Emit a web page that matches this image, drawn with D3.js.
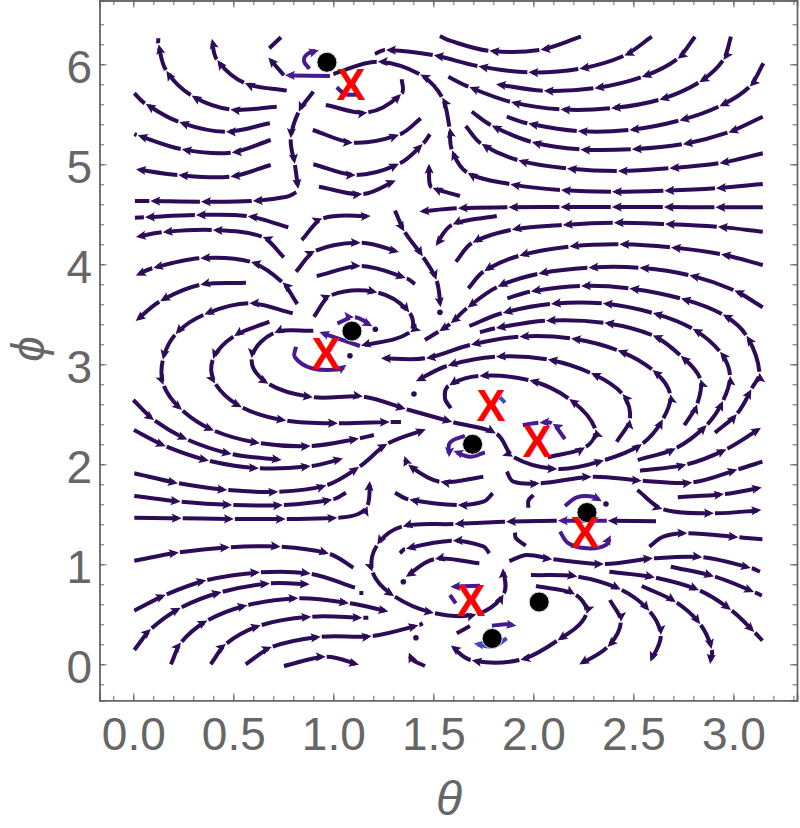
<!DOCTYPE html>
<html>
<head>
<meta charset="utf-8">
<script src="https://cdnjs.cloudflare.com/ajax/libs/d3/7.8.5/d3.min.js"></script>
<style>
  html, body { margin: 0; padding: 0; background: #fff; }
  svg { display: block; }
  text { font-family: "Liberation Sans", sans-serif; }
</style>
</head>
<body>
<div id="vis"></div>
<script>
// each line is a list of [theta, phi] knots in flow direction, a head sits on every knot.
// a third value 0 means no head on that knot (the line just passes through it)
var darkStreams = [
  [[.767,5.737],[.553,5.816],[.417,6.05],[.392,6.266]],
  [[.717,5.576],[.48,5.55],[.287,5.693],[.163,5.943],[.125,6.21],[.125,6.26,0]],
  [[.683,5.41],[.458,5.326],[.225,5.426],[.058,5.61],[.005,5.71,0]],
  [[.687,5.243],[.487,5.116],[.237,5.153],[.017,5.293],[.005,5.303,0]],
  [[.687,4.993],[.48,4.876],[.22,4.893],[.008,4.953]],
  [[.9,5.726],[.825,5.516],[.787,5.25],[.808,4.993],[.825,4.743]],
  [[.815,4.72],[.767,4.676,0],[.592,4.633],[.333,4.626],[.08,4.633],[.008,4.633,0]],
  [[.775,4.37],[.567,4.483],[.308,4.493],[.053,4.47],[.008,4.466,0]],
  [[.753,4.07],[.642,4.276],[.392,4.343],[.142,4.32],[.008,4.27]],
  [[.82,3.603],[.742,3.826],[.583,4.026],[.33,4.06],[.095,3.96],[.008,3.883]],
  [[.563,3.816],[.33,3.793],[.13,3.626],[.008,3.426]],
  [[.797,3.51],[.575,3.61],[.35,3.493],[.208,3.293],[.147,3.036],[.153,2.783],[.247,2.536],[.408,2.333],[.638,2.21],[.892,2.183],[1.133,2.26],[1.203,2.293,0]],
  [[.68,3.426],[.5,3.276],[.397,3.043],[.412,2.8],[.547,2.566],[.77,2.436],[1.028,2.41],[1.287,2.423],[1.338,2.423,0]],
  [[.9,3.336],[.7,3.31],[.592,3.05],[.68,2.8],[.903,2.67],[1.153,2.676],[1.367,2.55],[1.6,2.42],[1.817,2.303],[1.903,2.07],[2.125,1.953],[2.358,2.043],[2.547,2.21],[2.65,2.46],[2.683,2.71],[2.592,2.95],[2.417,3.143],[2.183,3.26],[1.925,3.276],[1.683,3.193],[1.458,3.06],[1.233,3.06]],
  [[.753,5.89],[.672,6.076]],
  [[.68,6.16],[.738,6.27,0]],
  [[2.238,6.276],[2.03,6.143],[1.775,6.136],[1.583,6.236,0],[1.533,6.283,0]],
  [[2.592,6.276],[2.45,6.083],[2.225,5.953],[1.97,5.92],[1.72,5.983],[1.497,6.093],[1.258,6.143],[1.208,6.103,0]],
  [[2.808,6.276],[2.717,6.05],[2.537,5.87],[2.3,5.76],[2.047,5.736],[1.808,5.803]],
  [[2.988,6.276],[2.947,6.036],[2.825,5.816],[2.625,5.643],[2.383,5.56],[2.13,5.55],[1.883,5.626],[1.675,5.776],[1.575,5.876,0]],
  [[3.15,6.01],[3.078,5.77],[2.925,5.576],[2.725,5.436],[2.475,5.343],[2.217,5.333],[1.97,5.41],[1.867,5.476,0]],
  [[3.147,5.476],[2.97,5.316],[2.742,5.2],[2.487,5.15],[2.23,5.15],[1.987,5.226],[1.787,5.393],[1.692,5.526,0]],
  [[3.147,5.11],[2.925,5.01],[2.675,4.96],[2.417,4.933],[2.163,4.96],[1.92,5.043],[1.737,5.21],[1.662,5.383,0]],
  [[3.147,4.803],[2.908,4.76],[2.65,4.736],[2.388,4.726],[2.133,4.743],[1.88,4.803],[1.667,4.92],[1.592,5.15],[1.58,5.376],[1.542,5.676],[1.43,5.903],[1.217,6.026],[1.0,5.903,0]],
  [[3.147,4.57],[2.905,4.57],[2.647,4.573],[2.387,4.573],[2.13,4.573],[1.87,4.57],[1.617,4.56],[1.425,4.526]],
  [[1.633,4.683,0],[1.492,4.77],[1.48,4.826,0],[1.478,5.016]],
  [[3.147,4.326],[2.917,4.376],[2.653,4.403],[2.397,4.416],[2.142,4.393],[1.887,4.343],[1.692,4.21],[1.613,4.026,0]],
  [[1.817,4.483],[1.592,4.393],[1.508,4.176]],
  [[3.147,3.993],[2.933,4.103],[2.683,4.17],[2.425,4.2],[2.175,4.176],[1.925,4.083],[1.75,3.926],[1.675,3.76,0]],
  [[3.147,3.57],[3.0,3.743],[2.775,3.893],[2.525,3.966],[2.27,3.966],[2.02,3.903],[1.817,3.77],[1.667,3.56],[1.583,3.403],[1.525,3.326],[1.458,3.243,0]],
  [[2.755,2.39],[2.82,2.61],[2.833,2.86],[2.733,3.093],[2.592,3.293],[2.35,3.416],[2.058,3.436],[1.808,3.36],[1.733,3.32,0]],
  [[2.522,2.043],[2.717,2.166],[2.87,2.4],[2.95,2.643],[2.983,2.893],[2.93,3.133],[2.792,3.36],[2.592,3.516],[2.342,3.61],[2.083,3.603],[1.842,3.51],[1.68,3.383,0]],
  [[2.908,2.316],[3.02,2.51],[3.092,2.76],[3.13,2.926],[3.063,3.293],[2.942,3.503],[2.733,3.66],[2.475,3.76],[2.233,3.783],[1.983,3.726],[1.87,3.66,0]],
  [[2.417,2.226],[2.483,2.46],[2.442,2.71],[2.283,2.916],[2.067,3.05],[1.808,3.076],[1.567,2.983],[1.408,2.826]],
  [[2.072,2.07],[2.263,2.176],[2.308,2.36],[2.175,2.66],[1.975,2.843],[1.725,2.883],[1.575,2.783],[1.558,2.66,0],[1.587,2.56,0]],
  [[1.308,4.536],[1.358,4.32],[1.45,4.07],[1.517,3.833],[1.537,3.56]],
  [[.962,5.593],[1.175,5.52],[1.342,5.71],[1.342,5.85,0]],
  [[.897,5.343],[1.103,5.216],[1.333,5.3],[1.437,5.46,0]],
  [[.9,5.0],[1.117,4.893],[1.333,5.01],[1.45,5.21],[1.483,5.3,0]],
  [[.928,4.776],[1.15,4.703],[1.317,4.843]],
  [[.842,4.243],[.95,4.46],[1.192,4.483]],
  [[.813,3.926],[.913,4.136],[1.142,4.216],[1.333,4.12]],
  [[.917,3.883],[1.142,3.983],[1.367,3.86],[1.408,3.803,0]],
  [[.903,3.476],[.992,3.693],[1.225,3.716],[1.383,3.51],[1.38,3.316],[1.133,3.183]],
  [[0,2.643],[.108,2.436],[.275,2.243],[.497,2.1],[.747,2.043]],
  [[.003,2.343],[.167,2.176],[.383,2.033],[.633,1.96],[.892,1.983],[1.053,2.06]],
  [[.005,1.91],[.228,1.81],[.475,1.743],[.73,1.726],[.97,1.793],[1.133,1.98],[1.275,2.21],[1.467,2.353]],
  [[.005,1.683],[.242,1.626],[.5,1.593],[.753,1.593],[1.0,1.65],[1.063,1.716,0]],
  [[.005,1.466],[.247,1.46],[.508,1.453],[.767,1.453],[1.025,1.466],[1.125,1.503,0],[1.172,1.593],[1.183,1.843]],
  [[.005,1.036],[.233,1.12],[.488,1.17],[.742,1.176],[.983,1.103],[1.1,.966,0]],
  [[.005,.536],[.167,.7],[.37,.843],[.638,.92],[.892,.903],[1.108,.766,0]],
  [[1.13,.713],[1.15,.713,0]],
  [[.005,.143],[.092,.36],[.242,.57],[.447,.726],[.688,.81],[.887,.8]],
  [[.188,.0],[.242,.226],[.375,.443],[.575,.593],[.83,.66],[1.083,.61],[1.28,.526]],
  [[.387,.0],[.467,.21],[.642,.393],[.895,.476],[1.15,.466],[1.175,.466,0]],
  [[.562,.0],[.697,.176],[.942,.276],[1.197,.283],[1.43,.393],[1.447,.41,0]],
  [[.753,-.017],[.967,.076],[1.133,-.007]],
  [[1.458,-.017],[1.392,.05,0],[1.375,.126]],
  [[2.613,1.43],[2.367,1.436]],
  [[2.117,1.436],[1.858,1.426],[1.6,1.403],[1.342,1.376],[1.217,1.186],[1.197,.916],[1.308,.676],[1.508,.51],[1.72,.503],[1.853,.71],[1.848,.97]],
  [[1.88,1.033],[1.967,1.093,0],[2.1,1.05],[2.358,1.003],[2.603,1.06],[2.85,1.07],[3.092,.96],[3.133,.926,0]],
  [[1.78,1.11],[1.75,1.18,0],[1.592,1.236],[1.358,1.153],[1.333,1.11,0]],
  [[1.73,1.01],[1.503,1.05],[1.358,.87]],
  [[1.797,1.71],[1.75,1.626,0],[1.617,1.593],[1.375,1.65],[1.308,1.716,0]],
  [[1.962,1.186],[1.913,1.26,0],[1.908,1.316,0]],
  [[2.0,1.693],[1.975,1.636,0],[1.975,1.566,0]],
  [[2.013,.783],[2.213,.693],[2.263,.493],[2.117,.233],[1.93,.043],[1.687,.043],[1.583,.193]],
  [[1.617,.31],[1.683,.383,0]],
  [[1.988,.893],[2.225,.876],[2.442,.743],[2.583,.526],[2.637,.283],[2.583,.016]],
  [[2.383,.643],[2.437,.416],[2.367,.166],[2.225,-.007]],
  [[2.38,.926],[2.613,.866],[2.833,.736],[2.992,.536],[3.108,.316],[3.145,.236,0]],
  [[2.542,.783],[2.717,.616],[2.837,.393],[2.892,.143],[2.883,-.007]],
  [[2.687,.976],[2.908,.876],[3.108,.72],[3.142,.686,0]],
  [[2.722,1.67],[2.958,1.703],[3.147,1.77]],
  [[2.52,1.743],[2.65,1.55],[2.908,1.51],[3.145,1.543]],
  [[2.58,1.176],[2.65,1.276,0],[2.775,1.31],[3.03,1.27],[3.145,1.25,0]],
  [[2.533,1.936],[2.77,2.0],[2.97,2.156],[3.142,2.37]],
  [[1.867,1.926],[1.9,1.826,0],[2.037,1.81],[2.297,1.876],[2.547,1.836],[2.8,1.82],[3.025,1.95],[3.145,2.026,0]],
  [[1.75,1.876],[1.53,1.826],[1.37,2.003],[1.353,2.093]]
];

var violetStreams = [
  [[.983,5.883],[.753,5.89]],
  [[.88,5.955,0],[.853,6.037,0],[.875,6.11,0],[.933,6.143]],
  [[1.017,5.77],[1.058,5.703,0],[1.117,5.696,0]],
  [[1.133,3.183],[.925,3.326]],
  [[1.02,3.41],[1.108,3.47],[1.2,3.376]],
  [[.813,3.176,0],[.808,3.07,0],[.892,2.96,0],[1.033,2.95,0],[1.07,3.0]],
  [[2.158,2.253],[2.092,2.41],[2.025,2.416],[1.947,2.393,0]],
  [[2.367,1.436],[2.117,1.436]],
  [[2.158,1.583],[2.217,1.67,0],[2.3,1.676,0],[2.347,1.626]],
  [[2.133,1.326],[2.175,1.21,0],[2.267,1.16,0],[2.36,1.19,0],[2.39,1.3]],
  [[1.733,.786],[1.58,.776]],
  [[1.583,.693],[1.612,.61,0]],
  [[1.793,.386],[1.867,.4,0],[1.92,.383]],
  [[1.658,2.286],[1.583,2.216,0],[1.578,2.06]],
  [[1.758,2.12],[1.683,2.076,0],[1.595,2.136]]
];

var blueStreams = [
  [[1.833,2.67],[1.858,2.616,0]],
  [[1.867,.26],[1.8,.177,0],[1.697,.21]]
];

// small round marks where a stream line ends
var endDotTheta = [1.533, 1.21, 1.403, 1.083, 2.363, 1.35, 1.413];
var endDotPhi = [3.52, 3.35, 2.703, 3.086, 1.603, .826, .266];

var fixedTheta = [.968, 1.093, 1.696, 2.268, 2.029, 1.794];
var fixedPhi = [6.02, 3.332, 2.2, 1.518, .623, .258];

var saddleTheta = [1.088, .963, 1.788, 2.018, 2.258, 1.688];
var saddlePhi = [5.803, 3.113, 2.593, 2.233, 1.323, .643];

var thetaLabels = [0, .5, 1, 1.5, 2, 2.5, 3];
var phiLabels = [0, 1, 2, 3, 4, 5, 6];
var thetaMinor = d3.range(-1, 34).map(function (d) { return d / 10; });
var phiMinor = d3.range(-1, 33).map(function (d) { return d / 5; });

var darkColor = '#2c0b57';
var violetColor = '#451b8f';
var blueColor = '#3d4ac4';
var axisColor = '#666666';

var width = 800;
var height = 828;

var x = d3.scaleLinear().domain([-0.169, 3.318]).range([99.5, 797]);
var y = d3.scaleLinear().domain([-0.36, 6.638]).range([700.3, 0.5]);

var svg = d3.select('#vis').append('svg')
  .attr('width', width)
  .attr('height', height);

function drawFrameAxes() {
  var bottom = y.range()[0];
  var top = y.range()[1];
  var left = x.range()[0];
  var right = x.range()[1];

  function put(axis, dx, dy) {
    var g = svg.append('g')
      .attr('transform', 'translate(' + dx + ',' + dy + ')')
      .call(axis);
    g.selectAll('path').attr('stroke', axisColor).attr('stroke-width', 1.4);
    g.selectAll('line').attr('stroke', axisColor).attr('stroke-width', 1);
    g.selectAll('text').attr('fill', axisColor);
    return g;
  }

  put(d3.axisBottom(x).tickValues(thetaMinor).tickSize(-4.5).tickFormat(''), 0, bottom);
  put(d3.axisTop(x).tickValues(thetaMinor).tickSize(-4.5).tickFormat(''), 0, top);
  put(d3.axisLeft(y).tickValues(phiMinor).tickSize(-4.5).tickFormat(''), left, 0);
  put(d3.axisRight(y).tickValues(phiMinor).tickSize(-4.5).tickFormat(''), right, 0);

  var xMajor = put(d3.axisBottom(x).tickValues(thetaLabels).tickSize(-7).tickFormat(d3.format('.1f')), 0, bottom);
  xMajor.selectAll('text')
    .attr('y', 50)
    .attr('dy', 0)
    .attr('font-size', 46)
    .style('font-family', '"Liberation Sans", sans-serif');

  var yMajor = put(d3.axisLeft(y).tickValues(phiLabels).tickSize(-7).tickFormat(d3.format('d')), left, 0);
  yMajor.selectAll('text')
    .attr('x', -7.5)
    .attr('dy', 18)
    .attr('font-size', 46)
    .style('font-family', '"Liberation Sans", sans-serif');

  put(d3.axisTop(x).tickValues(thetaLabels).tickSize(-7).tickFormat(''), 0, top);
  put(d3.axisRight(y).tickValues(phiLabels).tickSize(-7).tickFormat(''), right, 0);

  svg.append('text')
    .attr('x', 449)
    .attr('y', 815)
    .attr('text-anchor', 'middle')
    .attr('font-size', 48)
    .attr('font-style', 'italic')
    .attr('fill', axisColor)
    .text('θ');

  svg.append('text')
    .attr('transform', 'translate(44,349) rotate(-90)')
    .attr('text-anchor', 'middle')
    .attr('font-size', 46)
    .attr('font-style', 'italic')
    .attr('fill', axisColor)
    .text('ϕ');
}

function drawStream(stream, color) {
  var pts = stream.map(function (d) {
    return { x: x(d[0]), y: y(d[1]), head: d[2] !== 0 };
  });

  function tangent(i) {
    var a = pts[Math.max(i - 1, 0)];
    var b = pts[Math.min(i + 1, pts.length - 1)];
    var len = Math.hypot(b.x - a.x, b.y - a.y) || 1;
    return { x: (b.x - a.x) / len, y: (b.y - a.y) / len };
  }

  var d = 'M' + pts[0].x + ',' + pts[0].y;
  var endDir = null;

  for (var i = 1; i < pts.length; i++) {
    var p = pts[i - 1];
    var q = pts[i];
    var chord = Math.hypot(q.x - p.x, q.y - p.y);
    var t1 = tangent(i - 1);
    var t2 = tangent(i);
    var c2 = { x: q.x - t2.x * chord / 3, y: q.y - t2.y * chord / 3 };

    d += 'C' + (p.x + t1.x * chord / 3) + ',' + (p.y + t1.y * chord / 3) +
      ' ' + c2.x + ',' + c2.y + ' ' + q.x + ',' + q.y;
    endDir = Math.atan2(q.y - c2.y, q.x - c2.x);

    if (q.head || i === pts.length - 1) {
      var line = svg.append('path')
        .attr('d', d)
        .attr('fill', 'none')
        .attr('stroke', color)
        .attr('stroke-width', 4);

      if (q.head) {
        var total = line.node().getTotalLength();
        line.attr('stroke-dasharray', Math.max(total - 5, 0.5) + ' 2000');

        svg.append('path')
          .attr('d', 'M0,0L-10,-4.6L-8,0L-10,4.6Z')
          .attr('fill', color)
          .attr('transform', 'translate(' + q.x + ',' + q.y + ') rotate(' + (endDir * 180 / Math.PI) + ') translate(-1,0)');
      }

      d = 'M' + q.x + ',' + q.y;
    }
  }
}

drawFrameAxes();

darkStreams.forEach(function (s) { drawStream(s, darkColor); });
violetStreams.forEach(function (s) { drawStream(s, violetColor); });
blueStreams.forEach(function (s) { drawStream(s, blueColor); });

svg.selectAll('.enddot')
  .data(endDotTheta)
  .enter()
  .append('circle')
  .attr('class', 'enddot')
  .attr('cx', function (d) { return x(d); })
  .attr('cy', function (d, i) { return y(endDotPhi[i]); })
  .attr('r', 2.8)
  .attr('fill', darkColor);

svg.selectAll('.fixed')
  .data(fixedTheta)
  .enter()
  .append('circle')
  .attr('class', 'fixed')
  .attr('cx', function (d) { return x(d); })
  .attr('cy', function (d, i) { return y(fixedPhi[i]); })
  .attr('r', 10)
  .attr('fill', '#000')
  .attr('stroke', '#ddd')
  .attr('stroke-width', 1);

svg.selectAll('.saddle')
  .data(saddleTheta)
  .enter()
  .append('text')
  .attr('class', 'saddle')
  .attr('x', function (d) { return x(d); })
  .attr('y', function (d, i) { return y(saddlePhi[i]) + 15.7; })
  .attr('text-anchor', 'middle')
  .attr('font-size', 43.5)
  .attr('font-weight', 'bold')
  .attr('fill', '#ff0000')
  .text('X');
</script>
</body>
</html>
